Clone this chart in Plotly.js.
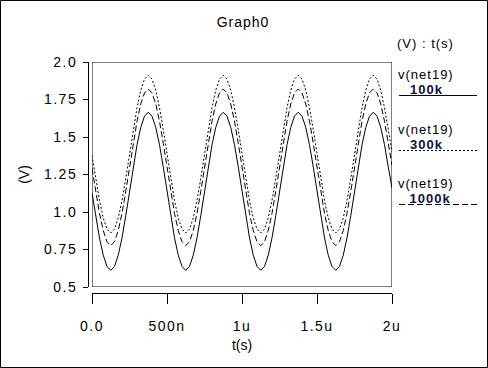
<!DOCTYPE html>
<html>
<head>
<meta charset="utf-8">
<script src="https://cdn.plot.ly/plotly-3.0.1.min.js"></script>
<style>
  html, body { margin: 0; padding: 0; background: #fff; }
  #chart { width: 488px; height: 368px; }
  #chart .xtick text, #chart .ytick text { letter-spacing: 1.5px; }
  #chart .gtitle, #chart .annotation-text { letter-spacing: 1px; }
</style>
</head>
<body>
<div id="chart"></div>
<script>
// time in ns
const timeNs = [
  0, 25, 50, 75, 100, 125, 150, 175, 200, 225,
  250, 275, 300, 325, 350, 375, 400, 425, 450, 475,
  500, 525, 550, 575, 600, 625, 650, 675, 700, 725,
  750, 775, 800, 825, 850, 875, 900, 925, 950, 975,
  1000, 1025, 1050, 1075, 1100, 1125, 1150, 1175, 1200, 1225,
  1250, 1275, 1300, 1325, 1350, 1375, 1400, 1425, 1450, 1475,
  1500, 1525, 1550, 1575, 1600, 1625, 1650, 1675, 1700, 1725,
  1750, 1775, 1800, 1825, 1850, 1875, 1900, 1925, 1950, 1975,
  2000
];

const v100k = [
  1.128, 0.972, 0.826, 0.712, 0.637, 0.611, 0.637, 0.712, 0.828, 0.975,
  1.138, 1.301, 1.448, 1.564, 1.639, 1.665, 1.639, 1.564, 1.448, 1.301,
  1.138, 0.975, 0.828, 0.712, 0.637, 0.611, 0.637, 0.712, 0.828, 0.975,
  1.138, 1.301, 1.448, 1.564, 1.639, 1.665, 1.639, 1.564, 1.448, 1.301,
  1.138, 0.975, 0.828, 0.712, 0.637, 0.611, 0.637, 0.712, 0.828, 0.975,
  1.138, 1.301, 1.448, 1.564, 1.639, 1.665, 1.639, 1.564, 1.448, 1.301,
  1.138, 0.975, 0.828, 0.712, 0.637, 0.611, 0.637, 0.712, 0.828, 0.975,
  1.138, 1.301, 1.448, 1.564, 1.639, 1.665, 1.639, 1.564, 1.448, 1.301,
  1.160
];

const v300k = [
  1.376, 1.220, 1.077, 0.960, 0.886, 0.860, 0.886, 0.960, 1.077, 1.223,
  1.386, 1.549, 1.695, 1.812, 1.886, 1.912, 1.886, 1.812, 1.695, 1.549,
  1.386, 1.223, 1.077, 0.960, 0.886, 0.860, 0.886, 0.960, 1.077, 1.223,
  1.386, 1.549, 1.695, 1.812, 1.886, 1.912, 1.886, 1.812, 1.695, 1.549,
  1.386, 1.223, 1.077, 0.960, 0.886, 0.860, 0.886, 0.960, 1.077, 1.223,
  1.386, 1.549, 1.695, 1.812, 1.886, 1.912, 1.886, 1.812, 1.695, 1.549,
  1.386, 1.223, 1.077, 0.960, 0.886, 0.860, 0.886, 0.960, 1.077, 1.223,
  1.386, 1.549, 1.695, 1.812, 1.886, 1.912, 1.886, 1.812, 1.695, 1.549,
  1.400
];

const v1000k = [
  1.290, 1.135, 0.991, 0.876, 0.802, 0.776, 0.802, 0.876, 0.991, 1.137,
  1.298, 1.459, 1.605, 1.720, 1.794, 1.820, 1.794, 1.720, 1.605, 1.459,
  1.298, 1.137, 0.991, 0.876, 0.802, 0.776, 0.802, 0.876, 0.991, 1.137,
  1.298, 1.459, 1.605, 1.720, 1.794, 1.820, 1.794, 1.720, 1.605, 1.459,
  1.298, 1.137, 0.991, 0.876, 0.802, 0.776, 0.802, 0.876, 0.991, 1.137,
  1.298, 1.459, 1.605, 1.720, 1.794, 1.820, 1.794, 1.720, 1.605, 1.459,
  1.298, 1.137, 0.991, 0.876, 0.802, 0.776, 0.802, 0.876, 0.991, 1.137,
  1.298, 1.459, 1.605, 1.720, 1.794, 1.820, 1.794, 1.720, 1.605, 1.459,
  1.310
];

const seriesNames = ['100k', '300k', '1000k'];
const xTickVals = [0, 500, 1000, 1500, 2000];
const xTickText = ['0.0', '500n', '1u', '1.5u', '2u'];
const yTickVals = [0.5, 0.75, 1.0, 1.25, 1.5, 1.75, 2.0];
const yTickText = ['0.5', '0.75', '1.0', '1.25', '1.5', '1.75', '2.0'];

// ---- geometry (pixels) ----
const W = 488, H = 368;
const mL = 88, mR = 96, mT = 62, mB = 75;
const pw = W - mL - mR, ph = H - mT - mB;
const px = x => (x - mL) / pw;
const py = y => (H - mB - y) / ph;

const FONT = 'Liberation Sans, Arial, sans-serif';
const FS = 14;
const LFS = 13;
const dashStyles = ['solid', '2px,2px', '6px,3px'];
const seriesData = [v100k, v300k, v1000k];

const traces = seriesData.map((vals, i) => ({
  x: timeNs,
  y: vals,
  type: 'scatter',
  mode: 'lines',
  name: 'v(net19) ' + seriesNames[i],
  line: { color: '#000', width: 1, dash: dashStyles[i] },
  showlegend: false
}));

const legendRows = [95.5, 150.5, 204.5];
const annotations = [
  { text: '(V) : t(s)', x: px(401), y: py(43), xanchor: 'left', yanchor: 'middle' }
];
const shapes = [
  // plot box
  { type: 'rect', xref: 'x', yref: 'y', x0: 0, x1: 2000, y0: 0.5, y1: 2.0,
    line: { color: '#000', width: 1 }, layer: 'above' },
  // figure frame
  { type: 'rect', xref: 'paper', yref: 'paper', x0: px(0.5), x1: px(487.5), y0: py(367.5), y1: py(0.5),
    line: { color: '#000', width: 1 } }
];
legendRows.forEach((ly, i) => {
  annotations.push({ text: 'v(net19)', x: px(401), y: py(ly - 21.5), xanchor: 'left', yanchor: 'middle' });
  annotations.push({ text: '<b>' + seriesNames[i] + '</b>', x: px(411), y: py(ly - 6), xanchor: 'left', yanchor: 'middle',
    font: { family: FONT, size: LFS, color: '#0a1440' } });
  shapes.push({ type: 'line', xref: 'paper', yref: 'paper', x0: px(399), x1: px(477), y0: py(ly), y1: py(ly),
    line: { color: '#000', width: 1, dash: dashStyles[i] } });
});
annotations.forEach(a => {
  a.xref = 'paper'; a.yref = 'paper'; a.showarrow = false; a.borderpad = 0;
  if (!a.font) a.font = { family: FONT, size: LFS, color: '#000' };
});

const layout = {
  width: W, height: H,
  margin: { l: mL, r: mR, t: mT, b: mB, pad: 0 },
  paper_bgcolor: '#fff',
  plot_bgcolor: '#fff',
  font: { family: FONT, size: FS, color: '#000' },
  title: { text: 'Graph0', x: 243 / W, xref: 'container', xanchor: 'center',
           y: 1 - 22 / H, yref: 'container', yanchor: 'middle',
           font: { family: FONT, size: FS, color: '#000' } },
  xaxis: {
    range: [0, 2000], domain: [px(92), 1],
    anchor: 'free', position: 0,
    showgrid: false, zeroline: false,
    showline: true, linecolor: '#000', linewidth: 1,
    ticks: 'outside', ticklen: 10, tickwidth: 1, tickcolor: '#000',
    tickvals: xTickVals, ticktext: xTickText,
    ticklabelstandoff: 10,
    tickfont: { family: FONT, size: FS, color: '#000' },
    title: { text: 't(s)', standoff: 7, font: { family: FONT, size: FS, color: '#000' } },
    automargin: false
  },
  yaxis: {
    range: [0.5, 2.0], domain: [py(287), 1],
    anchor: 'free', position: 0,
    showgrid: false, zeroline: false,
    showline: true, linecolor: '#000', linewidth: 1,
    ticks: 'outside', ticklen: 5, tickwidth: 1, tickcolor: '#000',
    tickvals: yTickVals, ticktext: yTickText,
    ticklabelstandoff: 3,
    tickfont: { family: FONT, size: FS, color: '#000' },
    title: { text: '(V)', standoff: 16, font: { family: FONT, size: FS, color: '#000' } },
    automargin: false
  },
  annotations: annotations,
  shapes: shapes
};

Plotly.newPlot('chart', traces, layout, { staticPlot: true, displayModeBar: false });
</script>
</body>
</html>
